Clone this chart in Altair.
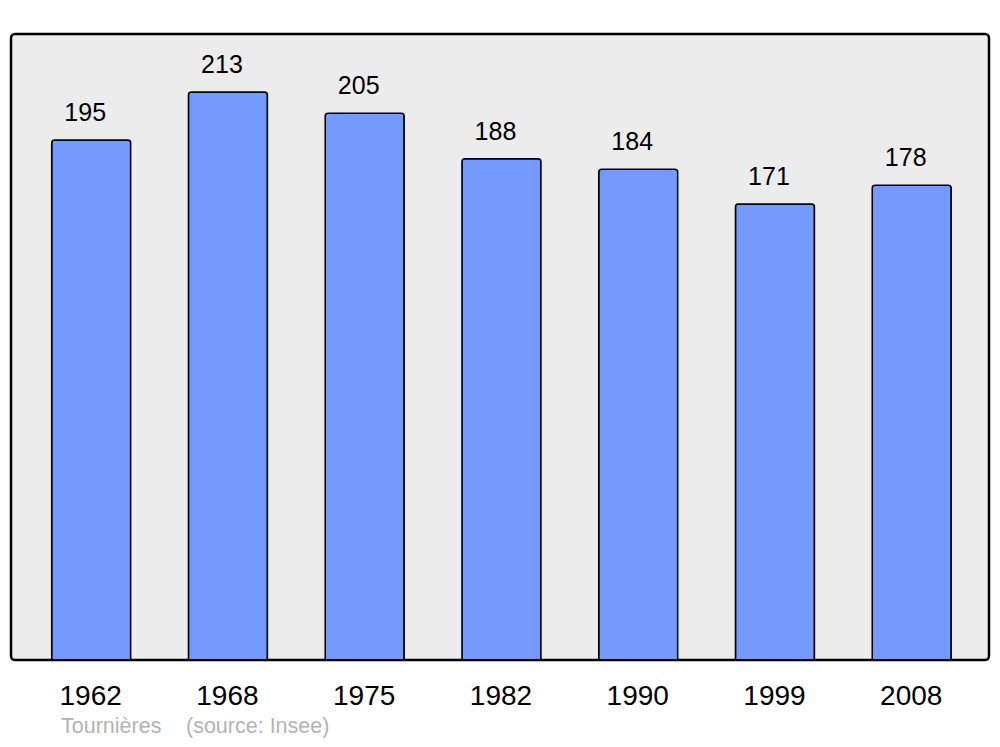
import altair as alt
import pandas as pd

years = ["1962", "1968", "1975", "1982", "1990", "1999", "2008"]
population = [195, 213, 205, 188, 184, 171, 178]
commune = "Tournières"
source = "(source: Insee)"

df = pd.DataFrame({"year": years, "pop": population})
note_df = pd.DataFrame({"commune": [commune], "source": [source]})

x = alt.X("year:N", sort=years, axis=None,
          scale=alt.Scale(range=[11.8, 969.1], paddingInner=0.4225, paddingOuter=0.21125))
y = alt.Y("pop:Q", axis=None, scale=alt.Scale(domain=[0, 234.75], nice=False, zero=True))

base = alt.Chart(df)

bars = base.mark_bar(color="#7499ff", stroke="#000000", strokeWidth=1.5,
                     cornerRadiusTopLeft=3, cornerRadiusTopRight=3).encode(x=x, y=y)

values = base.mark_text(font="Liberation Sans", fontSize=25, color="#000000",
                        baseline="alphabetic", dy=-19, dx=-6).encode(x=x, y=y, text="pop:Q")

year_labels = base.mark_text(font="Liberation Sans", fontSize=28, color="#000000",
                             baseline="alphabetic", dx=-0.5).encode(x=x, y=alt.value(671), text="year:N")

note = alt.Chart(note_df)
src1 = note.mark_text(font="Liberation Sans", fontSize=21.5,
                      color="#b4b4b4", align="left", baseline="alphabetic").encode(
    x=alt.value(50), y=alt.value(699), text="commune:N")
src2 = note.mark_text(font="Liberation Sans", fontSize=21.5,
                      color="#b4b4b4", align="left", baseline="alphabetic").encode(
    x=alt.value(175), y=alt.value(699), text="source:N")

chart = alt.layer(bars, values, year_labels, src1, src2).properties(
    width=978, height=626,
    autosize=alt.AutoSizeParams(type="none"),
    padding={"left": 3, "top": 26, "right": 3, "bottom": 79},
).configure_view(
    fill="#ececec", stroke="#000000", strokeWidth=2.5, cornerRadius=4
)

chart.save("out.html", embed_options={"renderer": "svg", "actions": False})
